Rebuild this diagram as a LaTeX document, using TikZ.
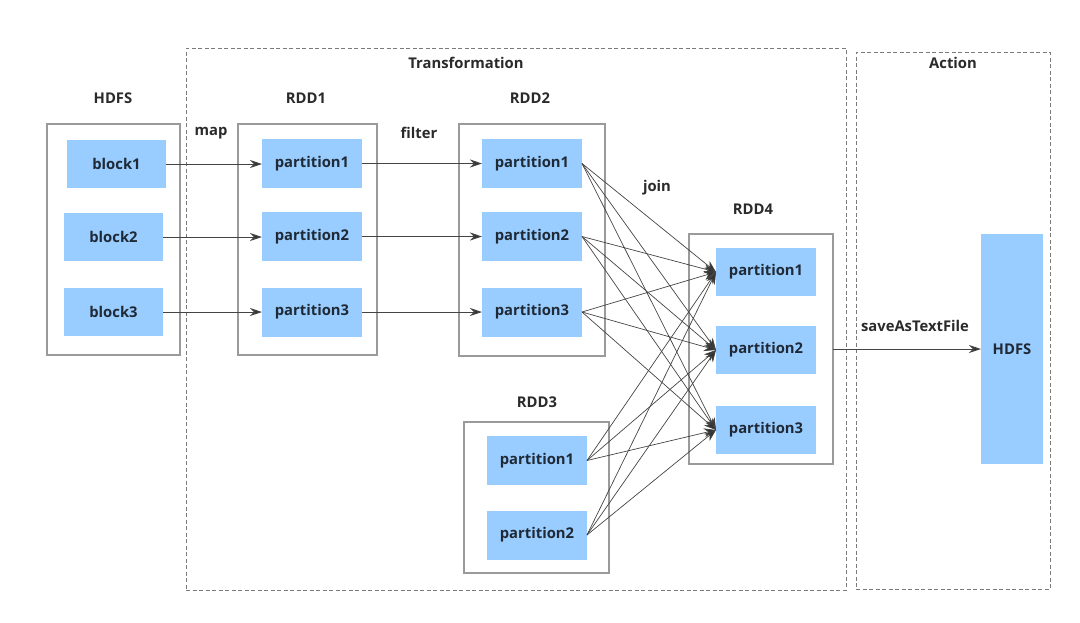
\documentclass[tikz,border=0pt]{standalone}
\usepackage{fontspec}
\setmainfont{Open Sans}
\usetikzlibrary{arrows.meta}
\definecolor{pblue}{HTML}{99CCFF}
\definecolor{txt}{HTML}{1F2A36}
\definecolor{lbltxt}{HTML}{2A2A2A}
\definecolor{framegray}{HTML}{9A9A9A}
\definecolor{dashgray}{HTML}{7A7A7A}
\definecolor{linegray}{HTML}{444444}
\definecolor{tipgray}{HTML}{333333}
\begin{document}
\begin{tikzpicture}[x=1pt,y=-1pt,
  part/.style={fill=pblue, draw=none, minimum width=100pt, minimum height=49pt, inner sep=0pt, outer sep=0pt, font=\bfseries\fontsize{14.8}{17}\selectfont, text=txt},
  frame/.style={draw=framegray, line width=1.5pt, inner sep=0pt, outer sep=0pt},
  dashframe/.style={draw=dashgray, line width=1pt, dash pattern=on 4pt off 2.5pt, inner sep=0pt, outer sep=0pt},
  lbl/.style={font=\bfseries\fontsize{14.8}{17}\selectfont, text=lbltxt, inner sep=0pt},
  arr/.style={draw=linegray, line width=1pt, -{Stealth[length=12pt,width=8pt,fill=tipgray]}},
  jarr/.style={draw=linegray, line width=0.7pt, -{Stealth[length=12pt,width=9pt,fill=tipgray]}},
]
\useasboundingbox (0,0) rectangle (1080,622);

% dashed stage frames
\node[dashframe, minimum width=660pt, minimum height=542pt] (trans) at (516,319) {};
\node[dashframe, minimum width=194pt, minimum height=537pt] (action) at (953,320.5) {};
\node[lbl] (translbl) at (466,63) {Transformation};
\node[lbl] (actlbl) at (953,63) {Action};

% RDD frames
\node[frame, minimum width=133pt, minimum height=231pt] (hdfsbox) at (113.5,239.5) {};
\node[frame, minimum width=139pt, minimum height=231pt] (rdd1box) at (307.5,239.5) {};
\node[frame, minimum width=146pt, minimum height=232pt] (rdd2box) at (532,240) {};
\node[frame, minimum width=145pt, minimum height=151pt] (rdd3box) at (536.5,497.5) {};
\node[frame, minimum width=144pt, minimum height=230pt] (rdd4box) at (761,349) {};

% titles
\node[lbl] (hdfslbl) at (113,98) {HDFS};
\node[lbl] (rdd1lbl) at (306,98) {RDD1};
\node[lbl] (rdd2lbl) at (530,98) {RDD2};
\node[lbl] (rdd3lbl) at (537,402) {RDD3};
\node[lbl] (rdd4lbl) at (753,209) {RDD4};
\node[lbl] (maplbl) at (211,133) {map};
\node[lbl] (filterlbl) at (419,133) {filter};
\node[lbl] (joinlbl) at (657,188) {join};
\node[lbl] (savelbl) at (915,326) {saveAsTextFile};

% blocks
\node[part, minimum width=99pt, minimum height=48pt] (b1) at (116.5,164) {block1};
\node[part, minimum width=99pt, minimum height=48pt] (b2) at (113.5,237) {block2};
\node[part, minimum width=99pt, minimum height=48pt] (b3) at (113.5,312) {block3};

% RDD1
\node[part] (r1p1) at (312,163.5) {partition1};
\node[part] (r1p2) at (312,236.5) {partition2};
\node[part] (r1p3) at (312,312) {partition3};

% RDD2
\node[part] (r2p1) at (532,163.5) {partition1};
\node[part] (r2p2) at (532,236.5) {partition2};
\node[part] (r2p3) at (532,312) {partition3};

% RDD3
\node[part] (r3p1) at (537,460.5) {partition1};
\node[part] (r3p2) at (537,535) {partition2};

% RDD4
\node[part, minimum height=48pt] (r4p1) at (766,272) {partition1};
\node[part, minimum height=48pt] (r4p2) at (766,350) {partition2};
\node[part, minimum height=48pt] (r4p3) at (766,430) {partition3};

% HDFS output
\node[part, minimum width=62pt, minimum height=230pt] (hdfsout) at (1012,349) {HDFS};

% map / filter arrows
\draw[arr] (b1.east) -- (b1.east -| r1p1.west);
\draw[arr] (b2.east) -- (b2.east -| r1p2.west);
\draw[arr] (b3.east) -- (b3.east -| r1p3.west);
\draw[arr] (r1p1.east) -- (r2p1.west);
\draw[arr] (r1p2.east) -- (r2p2.west);
\draw[arr] (r1p3.east) -- (r2p3.west);

% join arrows
\foreach \s in {r2p1,r2p2,r2p3,r3p1,r3p2}{
  \foreach \t in {r4p1,r4p2,r4p3}{
    \draw[jarr] (\s.east) -- (\t.west);
  }
}

% action arrow
\draw[arr] (rdd4box.east |- hdfsout.west) -- (hdfsout.west);
\end{tikzpicture}
\end{document}
